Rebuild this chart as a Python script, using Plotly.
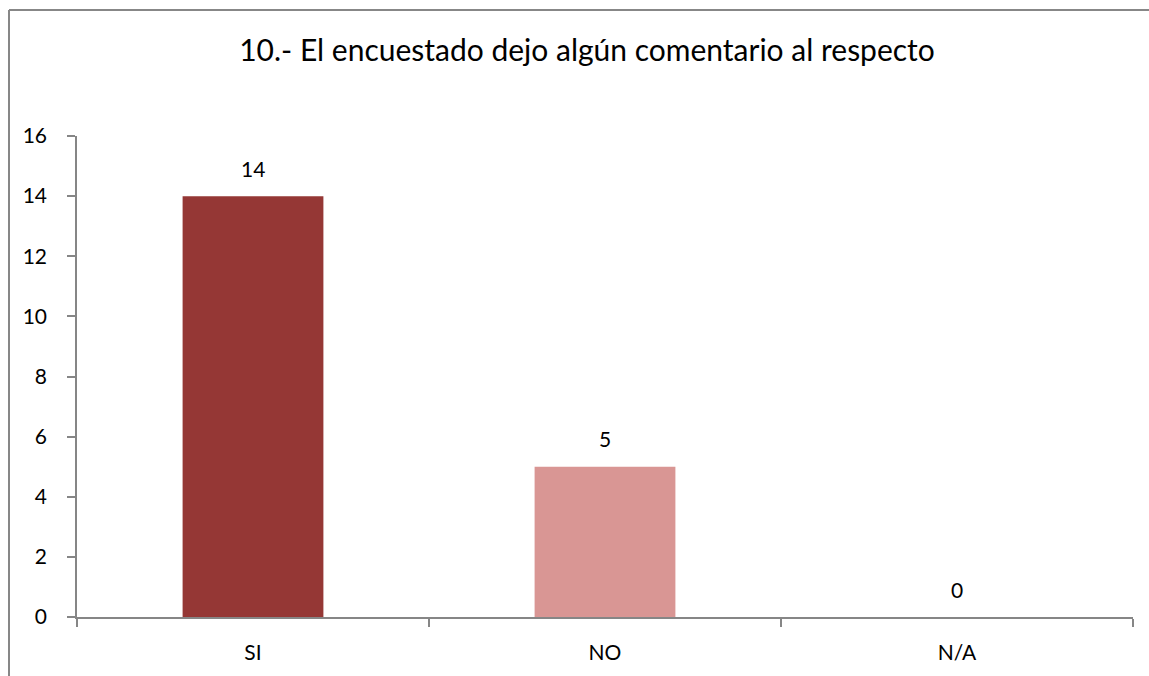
import plotly.graph_objects as go

categories = ["SI", "NO", "N/A"]
values = [14, 5, 0]
bar_colors = ["#953735", "#D99694", "#4F81BD"]
title_text = "10.- El encuestado dejo algún comentario al respecto"

font_family = "Lato, 'Open Sans', sans-serif"

W, H = 1149, 676
L, R, T, B = 77, 16, 136, 59
plot_w = W - L - R
plot_h = H - T - B

fig = go.Figure()
fig.add_trace(go.Bar(
    x=categories,
    y=values,
    marker_color=bar_colors,
    marker_line_width=0,
    width=0.4,
    hoverinfo="x+y",
))

for cat, val in zip(categories, values):
    fig.add_annotation(
        x=cat, y=val, text=str(val), showarrow=False,
        yanchor="middle", yshift=28,
        font=dict(size=21, color="#000000", family=font_family),
    )

axis_grey = "#868686"
frame_grey = "#878787"

# chart-area frame: only the left and top edges are inside the window
bx = (9 - L) / plot_w
by = 1 + (T - 10) / plot_h
right_edge = 1 + R / plot_w
bottom_edge = -B / plot_h

fig.update_layout(
    width=W,
    height=H,
    margin=dict(l=L, r=R, t=T, b=B, autoexpand=False),
    paper_bgcolor="white",
    plot_bgcolor="white",
    showlegend=False,
    font=dict(family=font_family, size=21, color="#000000"),
    title=dict(
        text=title_text,
        x=(587 - L) / plot_w, xref="paper", xanchor="center",
        y=1 - 50 / H, yref="container", yanchor="middle",
        font=dict(size=30, family=font_family, color="#000000"),
    ),
    xaxis=dict(
        type="category",
        showline=True, linecolor=axis_grey, linewidth=1.5,
        ticks="outside", tickson="boundaries", ticklen=8,
        tickcolor=axis_grey, tickwidth=1.5,
        showgrid=False, zeroline=False, automargin=False,
        ticklabelstandoff=16,
        tickfont=dict(size=21),
    ),
    yaxis=dict(
        range=[0, 16], dtick=2,
        showline=True, linecolor=axis_grey, linewidth=1.5,
        ticks="outside", ticklen=8, tickcolor=axis_grey, tickwidth=1.5,
        showgrid=False, zeroline=False, automargin=False,
        ticklabelstandoff=16,
        tickfont=dict(size=21),
    ),
    shapes=[
        dict(type="line", xref="paper", yref="paper",
             x0=bx, x1=bx, y0=bottom_edge, y1=by,
             line=dict(color=frame_grey, width=2), layer="below"),
        dict(type="line", xref="paper", yref="paper",
             x0=bx, x1=right_edge, y0=by, y1=by,
             line=dict(color=frame_grey, width=2), layer="below"),
    ],
)

fig.write_html(
    "out.html",
    config={"displayModeBar": False},
    post_script="document.body.style.margin='0';document.body.style.overflow='hidden';",
)
